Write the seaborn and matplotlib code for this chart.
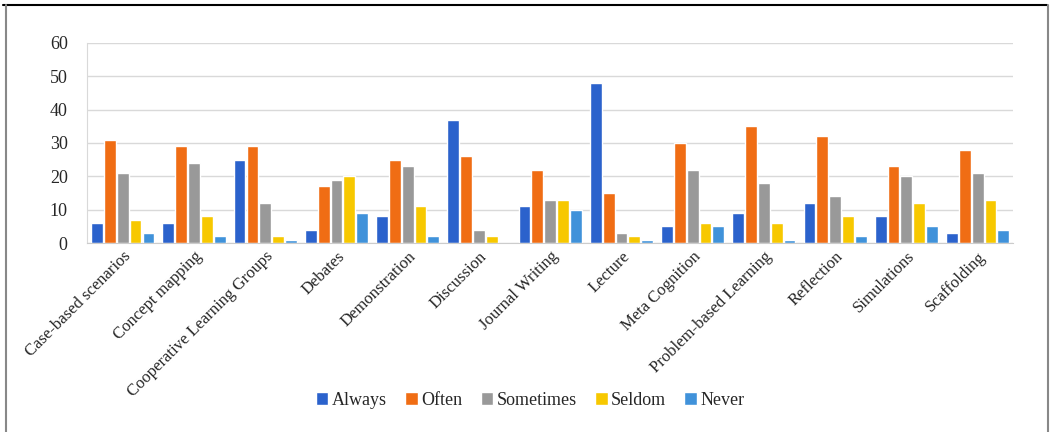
import seaborn as sns
import matplotlib.pyplot as plt
import pandas as pd

categories = ["Case-based scenarios", "Concept mapping", "Cooperative Learning Groups",
              "Debates", "Demonstration", "Discussion", "Journal Writing", "Lecture",
              "Meta Cognition", "Problem-based Learning", "Reflection", "Simulations",
              "Scaffolding"]
levels = ["Always", "Often", "Sometimes", "Seldom", "Never"]
always = [6, 6, 25, 4, 8, 37, 11, 48, 5, 9, 12, 8, 3]
often = [31, 29, 29, 17, 25, 26, 22, 15, 30, 35, 32, 23, 28]
sometimes = [21, 24, 12, 19, 23, 4, 13, 3, 22, 18, 14, 20, 21]
seldom = [7, 8, 2, 20, 11, 2, 13, 2, 6, 6, 8, 12, 13]
never = [3, 2, 1, 9, 2, 0, 10, 1, 5, 1, 2, 5, 4]
colors = ["#2B62CC", "#F06D14", "#999999", "#F7C800", "#4092DA"]

rows = []
for lvl, vals in zip(levels, [always, often, sometimes, seldom, never]):
    for cat, v in zip(categories, vals):
        rows.append({"strategy": cat, "freq": lvl, "count": v})
data = pd.DataFrame(rows)

sns.set_style("white")
plt.rcParams["font.family"] = ["Liberation Serif", "DejaVu Serif"]

fig = plt.figure(figsize=(10.5, 4.32), dpi=100)
ax = fig.add_axes([0.083, 0.4375, 0.882, 0.463])
sns.barplot(data=data, x="strategy", y="count", hue="freq", palette=colors,
            saturation=1, width=0.9, gap=0.08, ax=ax, legend=True)
ax.set_ylim(0, 60)
ax.set_yticks(range(0, 61, 10))
ax.set_xlim(-0.5, len(categories) - 0.5)
ax.yaxis.grid(True, color="#d9d9d9", linewidth=1)
ax.set_axisbelow(True)
for s in ["top", "right"]:
    ax.spines[s].set_visible(False)
ax.spines["left"].set_color("#d9d9d9")
ax.spines["bottom"].set_color("#cccccc")
ax.tick_params(axis="y", labelsize=13, length=0, pad=14)
ax.tick_params(axis="x", labelsize=12, length=0, pad=4)
ax.set_xticks(range(len(categories)))
ax.set_xticklabels(categories, rotation=45, ha="right", rotation_mode="anchor")
ax.set(xlabel="", ylabel="")

handles, labels = ax.get_legend_handles_labels()
ax.legend_.remove()
fig.legend(handles, labels, loc="center", bbox_to_anchor=(0.505, 0.073), ncol=5,
           frameon=False, fontsize=13, handlelength=0.7, handleheight=0.7,
           handletextpad=0.2, columnspacing=1.0)

# page frame
fig.add_artist(plt.Line2D([0.003, 0.997], [0.988, 0.988], color="black", lw=1.5,
                          transform=fig.transFigure))
fig.add_artist(plt.Line2D([0.006, 0.006], [0.0, 0.988], color="#888888", lw=1.5,
                          transform=fig.transFigure))
fig.add_artist(plt.Line2D([0.998, 0.998], [0.0, 0.988], color="#888888", lw=1.5,
                          transform=fig.transFigure))

fig.savefig("out.png", dpi=100)
